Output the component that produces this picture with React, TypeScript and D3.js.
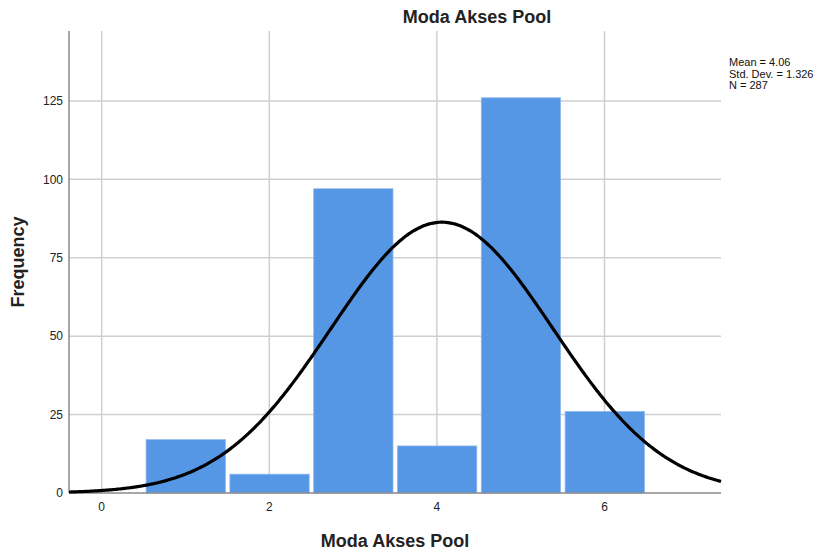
import React from "react";
import * as d3 from "d3";

const categories = [1, 2, 3, 4, 5, 6];
const frequencies = [17, 6, 97, 15, 126, 26];
const xTicks = [0, 2, 4, 6];
const yTicks = [0, 25, 50, 75, 100, 125];
const statsLines = ["Mean = 4.06", "Std. Dev. = 1.326", "N = 287"];
const mean = 4.06;
const sd = 1.326;
const n = 287;

export default function App() {
  const W = 827, H = 551;
  const left = 69, right = 721, top = 31, bottom = 493;
  const x = d3.scaleLinear().domain([-0.39, 7.39]).range([left, right]);
  const y = d3.scaleLinear().domain([0, 147.3]).range([bottom, top]);
  const pdf = (v: number) => (n / (sd * Math.sqrt(2 * Math.PI))) * Math.exp(-0.5 * ((v - mean) / sd) ** 2);
  const pts = d3.range(-0.39, 7.3901, 0.02).map((v) => [v, pdf(v)] as [number, number]);
  const line = d3.line<[number, number]>().x((d) => x(d[0])).y((d) => y(d[1])).curve(d3.curveBasis);
  const font = "Arial, 'Liberation Sans', sans-serif";
  return (
    <svg width={W} height={H} style={{ position: "absolute", left: 0, top: 0, background: "#fff" }} fontFamily={font}>
      <rect x={0} y={0} width={W} height={H} fill="#fff" />
      {yTicks.filter((t) => t > 0).map((t) => (
        <line key={"gy" + t} x1={left} x2={right} y1={y(t)} y2={y(t)} stroke="#cfcfcf" strokeWidth={1.5} />
      ))}
      {xTicks.map((t) => (
        <line key={"gx" + t} x1={x(t)} x2={x(t)} y1={top} y2={bottom} stroke="#cfcfcf" strokeWidth={1.5} />
      ))}
      {categories.map((c, i) => (
        <rect key={"b" + c} x={x(c - 0.5) + 2.5} width={x(c + 0.5) - x(c - 0.5) - 4.5} y={y(frequencies[i])}
          height={bottom - y(frequencies[i])} fill="#5596e5" stroke="#8fb8ee" strokeWidth={0.8} />
      ))}
      <line x1={left} x2={left} y1={top} y2={bottom} stroke="#8a8a8a" strokeWidth={1.5} />
      <line x1={left} x2={right} y1={bottom} y2={bottom} stroke="#8a8a8a" strokeWidth={1.5} />
      <path d={line(pts) || ""} fill="none" stroke="#000" strokeWidth={3.2} />
      {yTicks.map((t) => (
        <text key={"ty" + t} x={63} y={y(t)} dy="0.35em" textAnchor="end" fontSize={12} fill="#222">{t}</text>
      ))}
      {xTicks.map((t) => (
        <text key={"tx" + t} x={x(t)} y={511} textAnchor="middle" fontSize={12} fill="#222">{t}</text>
      ))}
      {statsLines.map((s, i) => (
        <text key={"s" + i} x={729} y={66 + i * 11.5} fontSize={11} fill="#111">{s}</text>
      ))}
      <text x={477} y={23} textAnchor="middle" fontSize={18} fontWeight="bold" fill="#222">Moda Akses Pool</text>
      <text x={395} y={547} textAnchor="middle" fontSize={18} fontWeight="bold" fill="#222">Moda Akses Pool</text>
      <text transform={`translate(24,${(top + bottom) / 2}) rotate(-90)`} textAnchor="middle" fontSize={18} fontWeight="bold" fill="#222">Frequency</text>
    </svg>
  );
}
